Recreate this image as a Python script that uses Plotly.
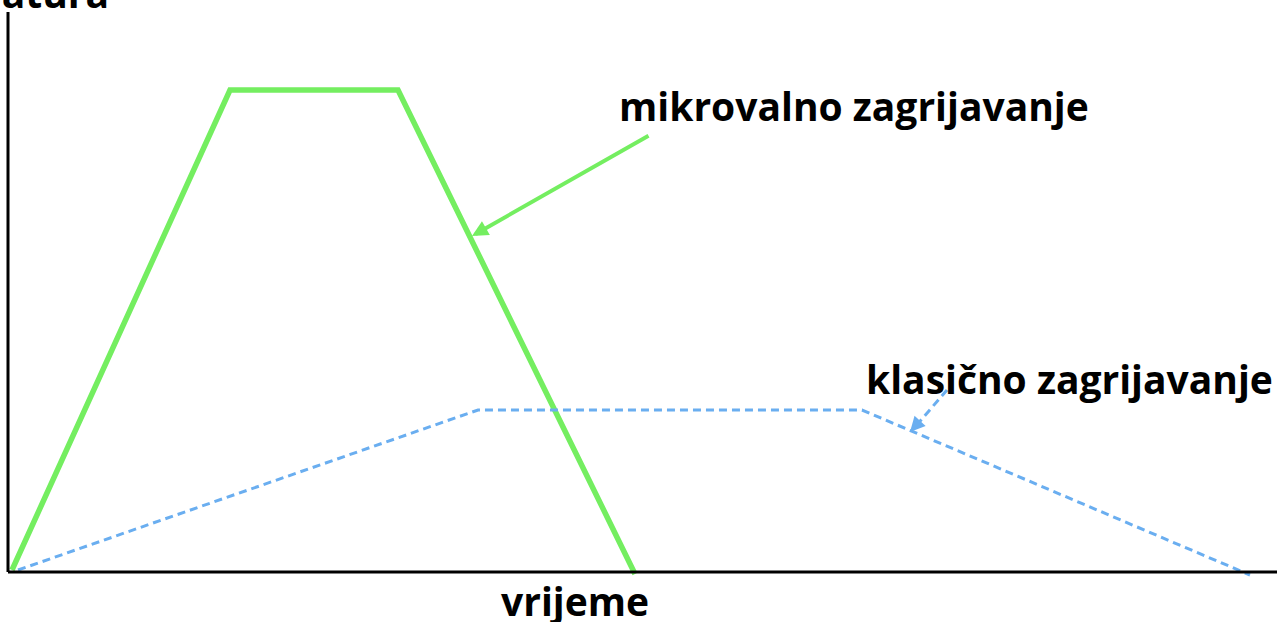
import plotly.graph_objects as go

# time (arbitrary units) and temperature (arbitrary units)
micro_time = [4, 222, 390, 627]
micro_temp = [2, 482, 482, -2]
classic_time = [10, 470, 854, 1242]
classic_temp = [2, 162, 162, -3]

x_label = "vrijeme"
y_label = "temperatura"
micro_label = "mikrovalno zagrijavanje"
classic_label = "klasično zagrijavanje"

GREEN = "#74EE60"
BLUE = "#6AAEF0"
FONT = "Open Sans"

fig = go.Figure()

fig.add_trace(go.Scatter(x=micro_time, y=micro_temp, mode="lines",
                         line=dict(color=GREEN, width=5.5), hoverinfo="skip"))
fig.add_trace(go.Scatter(x=classic_time, y=classic_temp, mode="lines",
                         line=dict(color=BLUE, width=3, dash="8px,5px"), hoverinfo="skip"))

# axes
fig.add_shape(type="line", x0=0, y0=0, x1=0, y1=560, line=dict(color="black", width=3))
fig.add_shape(type="line", x0=0, y0=0, x1=1269, y1=0, line=dict(color="black", width=3))

# green arrow
fig.add_annotation(x=464, y=336, ax=642, ay=437, axref="x", ayref="y", text="",
                   showarrow=True, arrowhead=2, arrowsize=0.8, arrowwidth=4, arrowcolor=GREEN)
# blue dashed arrow
fig.add_trace(go.Scatter(x=[939, 907], y=[182, 145], mode="lines",
                         line=dict(color=BLUE, width=3, dash="8px,5px"), hoverinfo="skip"))
fig.add_annotation(x=902, y=140, ax=912, ay=151, axref="x", ayref="y", text="",
                   showarrow=True, arrowhead=2, arrowsize=1, arrowwidth=3, arrowcolor=BLUE)

lab_font = dict(family=FONT, size=39, color="black")
fig.add_annotation(x=846, y=467, text="<b>%s</b>" % micro_label, showarrow=False,
                   font=lab_font, xanchor="center", yanchor="middle")
fig.add_annotation(x=1061, y=194, text="<b>%s</b>" % classic_label, showarrow=False,
                   font=lab_font, xanchor="center", yanchor="middle")
fig.add_annotation(x=567, y=-28, text="<b>%s</b>" % x_label, showarrow=False,
                   font=lab_font, xanchor="center", yanchor="middle")
# y-axis title, partly cut off at the top edge as in the original
fig.add_annotation(x=103, y=1.0, xref="x", yref="paper", yshift=8,
                   text="<b>%s</b>" % y_label, showarrow=False,
                   font=lab_font, xanchor="right", yanchor="middle")

fig.update_layout(
    width=1277, height=622, margin=dict(l=0, r=0, t=0, b=0),
    paper_bgcolor="white", plot_bgcolor="white", showlegend=False,
    xaxis=dict(range=[-8, 1269], visible=False, fixedrange=True),
    yaxis=dict(range=[-50, 572], visible=False, fixedrange=True),
)
fig.write_html("out.html", config={"displayModeBar": False},
               post_script="document.body.style.margin='0';document.body.style.padding='0';")
